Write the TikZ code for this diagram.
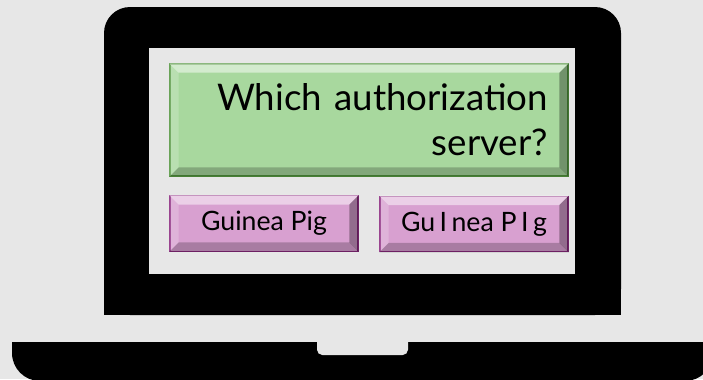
\documentclass[tikz,border=0pt]{standalone}
\usepackage{fontspec}
\setmainfont{Lato}
\usetikzlibrary{calc}

\definecolor{bggray}{RGB}{231,231,231}
\definecolor{qgreen}{RGB}{168,216,158}
\definecolor{qgreenline}{RGB}{84,150,64}
\definecolor{pigpink}{RGB}{216,160,208}
\definecolor{pigpinkline}{RGB}{140,42,128}

\tikzset{
  questionbox/.style={draw=qgreenline,line width=0.9pt,fill=qgreen,
    minimum width=298.5pt,minimum height=84pt,text width=268.5pt,inner xsep=15pt,
    align=right,font=\fontsize{27.5pt}{33.75pt}\selectfont},
  pigbox/.style={draw=pigpinkline,line width=0.9pt,fill=pigpink,
    minimum width=141pt,minimum height=41.5pt,inner sep=0pt,
    font=\fontsize{20pt}{23pt}\selectfont}
}

% bevel of a box: light top and left, dark bottom and right
\newcommand{\bevelbox}[1]{%
  \fill[white,opacity=0.5] (#1.north west) -- (#1.north east)
    -- ([shift={(-7pt,-7pt)}]#1.north east) -- ([shift={(7pt,-7pt)}]#1.north west) -- cycle;
  \fill[white,opacity=0.2] (#1.north west) -- ([shift={(7pt,-7pt)}]#1.north west)
    -- ([shift={(7pt,7pt)}]#1.south west) -- (#1.south west) -- cycle;
  \fill[black,opacity=0.22] (#1.south west) -- (#1.south east)
    -- ([shift={(-7pt,7pt)}]#1.south east) -- ([shift={(7pt,7pt)}]#1.south west) -- cycle;
  \fill[black,opacity=0.32] (#1.north east) -- ([shift={(-7pt,-7pt)}]#1.north east)
    -- ([shift={(-7pt,7pt)}]#1.south east) -- (#1.south east) -- cycle;
}

\begin{document}
\begin{tikzpicture}[x=0.75pt,y=-0.75pt]
\fill [bggray] (0, 0) rectangle (703, 379);
\useasboundingbox (0, 0) rectangle (703, 379);

% base
\fill [rounded corners=21pt] (12, 290) rectangle (713, 381);
\fill [bggray] (0, 290) rectangle (713, 342);
\fill [bggray,rounded corners=4pt] (317, 332) rectangle (408, 355);

% lid
\fill [rounded corners=19.5pt] (104, 7) rectangle (621, 315);
\fill (104, 100) rectangle (621, 315);
\fill [bggray] (149, 48) rectangle (575, 274);

% screen content
\node (question) at (369, 120) [questionbox] {Which authorization\\server?};
\node (pigA) at (264, 223.5) [pigbox] {Guinea Pig};
\node (pigB) at (474, 224) [pigbox] {Gu\,I\,nea P\,I\,g};

\bevelbox{question}
\bevelbox{pigA}
\bevelbox{pigB}
\end{tikzpicture}
\end{document}
